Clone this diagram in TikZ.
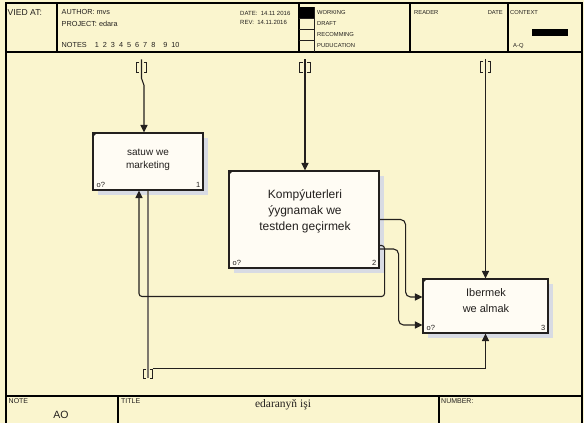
\documentclass[tikz,border=0pt]{standalone}
\usepackage{fontspec}
\setmainfont{Liberation Sans}
\newfontfamily\titlefont{Liberation Serif}
\usetikzlibrary{positioning,arrows.meta,calc,shadows}
\definecolor{paper}{RGB}{250,245,206}
\definecolor{boxfill}{RGB}{255,252,244}
\definecolor{shade}{RGB}{216,219,227}
\definecolor{ink}{RGB}{35,32,30}
\definecolor{mechgray}{RGB}{125,120,110}
\newcommand{\notegap}{\hspace{4pt}}

\begin{document}
\begin{tikzpicture}[x=1pt,y=-1pt,
  every node/.style={font=\fontsize{7.3}{8}\selectfont,text=ink,inner sep=0pt},
  frame/.style={draw=black,line width=1.2pt},
  small/.style={font=\fontsize{5.8}{6}\selectfont},
  actbox/.style={draw=ink,line width=1.1pt,fill=boxfill,
    copy shadow={shadow xshift=4.5pt,shadow yshift=-4.5pt,fill=shade,draw=none}},
  acttext/.style={align=center,font=\fontsize{10}{13}\selectfont},
  corner/.style={font=\fontsize{7.5}{8}\selectfont},
  flow/.style={draw=ink,line width=1.1pt,-{Triangle[length=7.5pt,width=7pt]}},
  tunnel/.style={minimum width=10pt,minimum height=10pt}]
\fill[paper] (0,0) rectangle (584,423);
\useasboundingbox (0,0) rectangle (584,423);

% frame and header
\draw[frame] (6,423) -- (6,3) -- (582,3) -- (582,423);
\draw[frame] (6,52) -- (582,52);
\draw[frame] (57,3) -- (57,52);
\draw[frame] (299,3) -- (299,52);
\draw[frame] (410,3) -- (410,52);
\draw[frame] (508,3) -- (508,52);
\fill[black] (299,7) rectangle (314,18);
\draw[ink,line width=0.9pt] (314,7) -- (314,52);
\foreach \y in {18,29,40}
  \draw[ink,line width=0.9pt] (299,\y) -- (314,\y);
\node[anchor=west,font=\fontsize{8.6}{9}\selectfont] (vied) at (7.5,12.5) {VIED AT:};
\node[anchor=west] (author) at (61.5,12) {AUTHOR: mvs};
\node[anchor=west] (project) at (61.5,23.5) {PROJECT: edara};
\node[anchor=west] (notes) at (61.5,45)
  {NOTES\notegap\notegap 1\notegap 2\notegap 3\notegap 4\notegap 5\notegap 6\notegap 7\notegap 8\notegap\notegap 9\notegap 10};
\node[anchor=west,font=\fontsize{6}{7}\selectfont] (date) at (240,13) {DATE:\ \ 14.11 2016};
\node[anchor=west,font=\fontsize{6}{7}\selectfont] (rev) at (240,22.5) {REV:\ \ 14.11.2016};
\node[small,anchor=west] (working) at (317,13) {WORKING};
\node[small,anchor=west] (draft) at (317,24) {DRAFT};
\node[small,anchor=west] (recom) at (317,35) {RECOMMING};
\node[small,anchor=west] (pub) at (317,46) {PUDUCATION};
\node[small,anchor=west] (reader) at (414,13) {READER};
\node[small,anchor=east] (rdate) at (503,13) {DATE};
\node[small,anchor=west] (context) at (510,13) {CONTEXT};
\fill[black] (532,29) rectangle (568,36);
\node[small,anchor=west] (aq) at (513,46) {A-Q};

% footer
\draw[frame] (6,396) -- (582,396);
\draw[frame] (118,396) -- (118,423);
\draw[frame] (439,396) -- (439,423);
\node[anchor=west,font=\fontsize{7}{8}\selectfont] (note) at (8.5,401) {NOTE};
\node[font=\fontsize{10.5}{11}\selectfont] (ao) at (61,415) {AO};
\node[anchor=west,font=\fontsize{7}{8}\selectfont] (title) at (121,401) {TITLE};
\node[font=\titlefont\fontsize{11.5}{12}\selectfont] (tname) at (283,405) {edaranyň işi};
\node[anchor=west,font=\fontsize{7}{8}\selectfont] (number) at (441,401) {NUMBER:};

% activities
\node[actbox,minimum width=110pt,minimum height=57pt] (A1) at (148,161.5) {};
\node[actbox,minimum width=150pt,minimum height=97pt] (A2) at (304,219.5) {};
\node[actbox,minimum width=125pt,minimum height=54pt] (A3) at (485.5,306) {};
\node[acttext] (A1t) at (148,159.5) {satuw we\\marketing};
\node[acttext,font=\fontsize{12}{16}\selectfont] (A2t) at (305,211) {Kompýuterleri\\ýygnamak we\\testden geçirmek};
\node[acttext,font=\fontsize{11}{16}\selectfont] (A3t) at (486,301) {Ibermek\\we almak};
\foreach \b/\n in {A1/1,A2/2,A3/3} {
  \node[corner,anchor=south west] (o\n) at ([xshift=4pt,yshift=2.5pt]\b.south west) {o?};
  \node[corner,anchor=south east] (n\n) at ([xshift=-3pt,yshift=2.5pt]\b.south east) {\n};
  \fill[ink] (\b.north west) -- ([xshift=5pt]\b.north west) -- ([yshift=-5pt]\b.north west) -- cycle;
}

% tunnels
\node[tunnel] (T1) at (141.5,67.5) {};
\node[tunnel] (T2) at (305,67.5) {};
\node[tunnel] (T3) at (485.5,67) {};
\node[tunnel,minimum width=9pt,minimum height=8pt] (T4) at (148,374) {};
\foreach \t in {T1,T2,T3,T4} {
  \draw[ink,line width=0.9pt] ([xshift=3pt]\t.north west) -- (\t.north west) -- (\t.south west) -- ([xshift=3pt]\t.south west);
  \draw[ink,line width=0.9pt] ([xshift=-3pt]\t.north east) -- (\t.north east) -- (\t.south east) -- ([xshift=-3pt]\t.south east);
}

% arrows
\draw[flow] ([yshift=3pt]T1.north) -- ++(0,19) .. controls +(0,3) and +(0,-3) .. ++(2.5,7) -- ($(A1.north)+(-4,0)$);
\draw[flow] ([yshift=3pt]T2.north) -- (A2.north -| T2);
\draw[flow] ([yshift=3pt]T3.north) -- (A3.north -| T3);
\draw[mechgray,line width=1.7pt] (T4.south) -- (A1.south);
\draw[flow] ([yshift=1.5pt]T4.north east) -| (A3.south);
\draw[flow,rounded corners=5pt] (A2.east) -- ++(26,0) |- ($(A3.west)+(0,-9)$);
\draw[flow,rounded corners=5pt] ($(A2.east)+(0,29.5)$) -- ++(19,0) |- ($(A3.west)+(0,19)$);
\draw[flow,rounded corners=3pt] ($(A2.east)+(0,26)$) -- ++(5,0) -- ++(0,51) -| ($(A1.south)+(-9,0)$);
\end{tikzpicture}
\end{document}
